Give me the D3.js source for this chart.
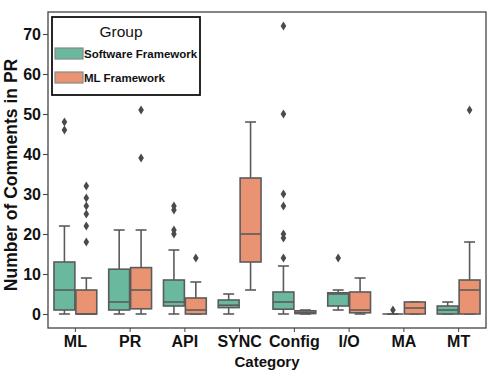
<!DOCTYPE html>
<html>
<head>
<meta charset="utf-8">
<script src="https://cdn.jsdelivr.net/npm/d3@7"></script>
<style>
  body { margin: 0; background: #fff; }
  svg { display: block; font-family: "Liberation Sans", Arial, sans-serif; }
</style>
</head>
<body>
<svg></svg>
<script>
// constants
const WIDTH = 498;
const HEIGHT = 374;
const LEFT = 48, RIGHT = 486, TOP = 12, BOTTOM = 328;

// data
const categories = ['ML', 'PR', 'API', 'SYNC', 'Config', 'I/O', 'MA', 'MT'];
const groups = ['Software Framework', 'ML Framework'];
const colors = ['#6ab89e', '#e99372'];
// [whisker low, q1, median, q3, whisker high]
const swStats = [[0, 1, 6, 13, 22], [0, 1, 3, 11.2, 21], [0, 2, 3, 8.5, 16], [0, 1.6, 2.2, 3.5, 5],
                 [0, 1.2, 3, 5.5, 12], [1, 2, 5, 5.3, 6], [0, 0, 0, 0, 0], [0, 0, 1, 2, 3]];
const mlStats = [[0, 0, 0, 6, 9], [0, 1.3, 6, 11.6, 21], [0, 0, 1, 4, 8], [6, 13, 20, 34, 48],
                 [0, 0.1, 0.4, 0.8, 1], [0, 0.3, 1, 5.5, 9], [0, 0, 1.5, 3, 3], [0, 0, 6, 8.5, 18]];
const swOutliers = [[48, 46], [], [27, 26, 21, 20], [], [72, 50, 30, 27, 20, 19, 14], [14], [1], []];
const mlOutliers = [[32, 29, 27, 25, 22, 18], [51, 39], [14], [], [], [], [], [51]];
const yTicks = [0, 10, 20, 30, 40, 50, 60, 70];

const LINE = '#5b5b5b';

const svg = d3.select('svg')
    .attr('width', WIDTH)
    .attr('height', HEIGHT);

// scales
const x = d3.scaleBand()
    .domain(categories)
    .range([LEFT, RIGHT]);
const hue = d3.scaleBand()
    .domain(groups)
    .range([0, x.bandwidth() * 0.8]);
const y = d3.scaleLinear()
    .domain([-3.5, 75.5])
    .range([BOTTOM, TOP]);

// boxes
const rows = [];
categories.forEach((c, i) => {
    rows.push({cat: c, group: groups[0], s: swStats[i], out: swOutliers[i], color: colors[0]});
    rows.push({cat: c, group: groups[1], s: mlStats[i], out: mlOutliers[i], color: colors[1]});
});

const boxG = svg.append('g')
    .selectAll('g')
    .data(rows).join('g')
    .attr('transform', d => `translate(${x(d.cat) + x.bandwidth() * 0.1 + hue(d.group)}, 0)`);

const bw = hue.bandwidth();
const cx = bw / 2;

// whiskers
boxG.append('line')
    .attr('x1', cx).attr('x2', cx)
    .attr('y1', d => y(d.s[0])).attr('y2', d => y(d.s[1]))
    .attr('stroke', LINE).attr('stroke-width', 1.6);
boxG.append('line')
    .attr('x1', cx).attr('x2', cx)
    .attr('y1', d => y(d.s[3])).attr('y2', d => y(d.s[4]))
    .attr('stroke', LINE).attr('stroke-width', 1.6);
// caps
[0, 4].forEach(k => {
    boxG.append('line')
        .attr('x1', cx - bw / 4).attr('x2', cx + bw / 4)
        .attr('y1', d => y(d.s[k])).attr('y2', d => y(d.s[k]))
        .attr('stroke', LINE).attr('stroke-width', 1.6);
});

boxG.append('rect')
    .attr('x', 0.5)
    .attr('width', bw - 1)
    .attr('y', d => y(d.s[3]))
    .attr('height', d => y(d.s[1]) - y(d.s[3]))
    .attr('fill', d => d.color)
    .attr('stroke', LINE)
    .attr('stroke-width', 1.6);

boxG.append('line')
    .attr('x1', 0.5).attr('x2', bw - 0.5)
    .attr('y1', d => y(d.s[2])).attr('y2', d => y(d.s[2]))
    .attr('stroke', LINE).attr('stroke-width', 1.6);

// outliers (thin diamonds)
boxG.selectAll('path')
    .data(d => d.out).join('path')
    .attr('d', v => `M${cx},${y(v) - 4.5}L${cx + 2.8},${y(v)}L${cx},${y(v) + 4.5}L${cx - 2.8},${y(v)}Z`)
    .attr('fill', '#4a4a4a');

// frame
svg.append('rect')
    .attr('x', LEFT).attr('y', TOP)
    .attr('width', RIGHT - LEFT).attr('height', BOTTOM - TOP)
    .attr('fill', 'none')
    .attr('stroke', '#444')
    .attr('stroke-width', 1.3);

// axes
const yAxis = svg.append('g')
    .attr('transform', `translate(${LEFT}, 0)`)
    .call(d3.axisLeft(y).tickValues(yTicks).tickSize(5).tickPadding(2));
const xAxis = svg.append('g')
    .attr('transform', `translate(0, ${BOTTOM})`)
    .call(d3.axisBottom(x).tickSize(4).tickPadding(4));

[yAxis, xAxis].forEach(a => {
    a.select('.domain').remove();
    a.selectAll('line').attr('stroke', '#444');
    a.selectAll('text')
        .attr('font-family', '"Liberation Sans", Arial, sans-serif')
        .attr('font-size', 16)
        .attr('font-weight', 'bold')
        .attr('fill', '#111');
});

svg.append('text')
    .attr('x', (LEFT + RIGHT) / 2)
    .attr('y', 367)
    .attr('text-anchor', 'middle')
    .attr('font-size', 15)
    .attr('font-weight', 'bold')
    .attr('fill', '#111')
    .text('Category');

svg.append('text')
    .attr('transform', 'translate(17, 175) rotate(-90)')
    .attr('text-anchor', 'middle')
    .attr('font-size', 17.5)
    .attr('font-weight', 'bold')
    .attr('fill', '#111')
    .text('Number of Comments in PR');

// legend
const legend = svg.append('g');
legend.append('rect')
    .attr('x', 52).attr('y', 17)
    .attr('width', 148).attr('height', 78)
    .attr('fill', '#fff')
    .attr('stroke', '#111')
    .attr('stroke-width', 1.8);
legend.append('text')
    .attr('x', 121).attr('y', 37)
    .attr('text-anchor', 'middle')
    .attr('font-size', 15.5)
    .attr('fill', '#111')
    .text('Group');

const items = legend.selectAll('g.item')
    .data(groups).join('g')
    .attr('class', 'item')
    .attr('transform', (d, i) => `translate(55, ${48 + i * 24})`);
items.append('rect')
    .attr('width', 28).attr('height', 11)
    .attr('fill', (d, i) => colors[i])
    .attr('stroke', '#888')
    .attr('stroke-width', 1.2);
items.append('text')
    .attr('x', 29).attr('y', 10)
    .attr('font-size', 11.5)
    .attr('font-weight', 'bold')
    .attr('fill', '#111')
    .text(d => d);
</script>
</body>
</html>
